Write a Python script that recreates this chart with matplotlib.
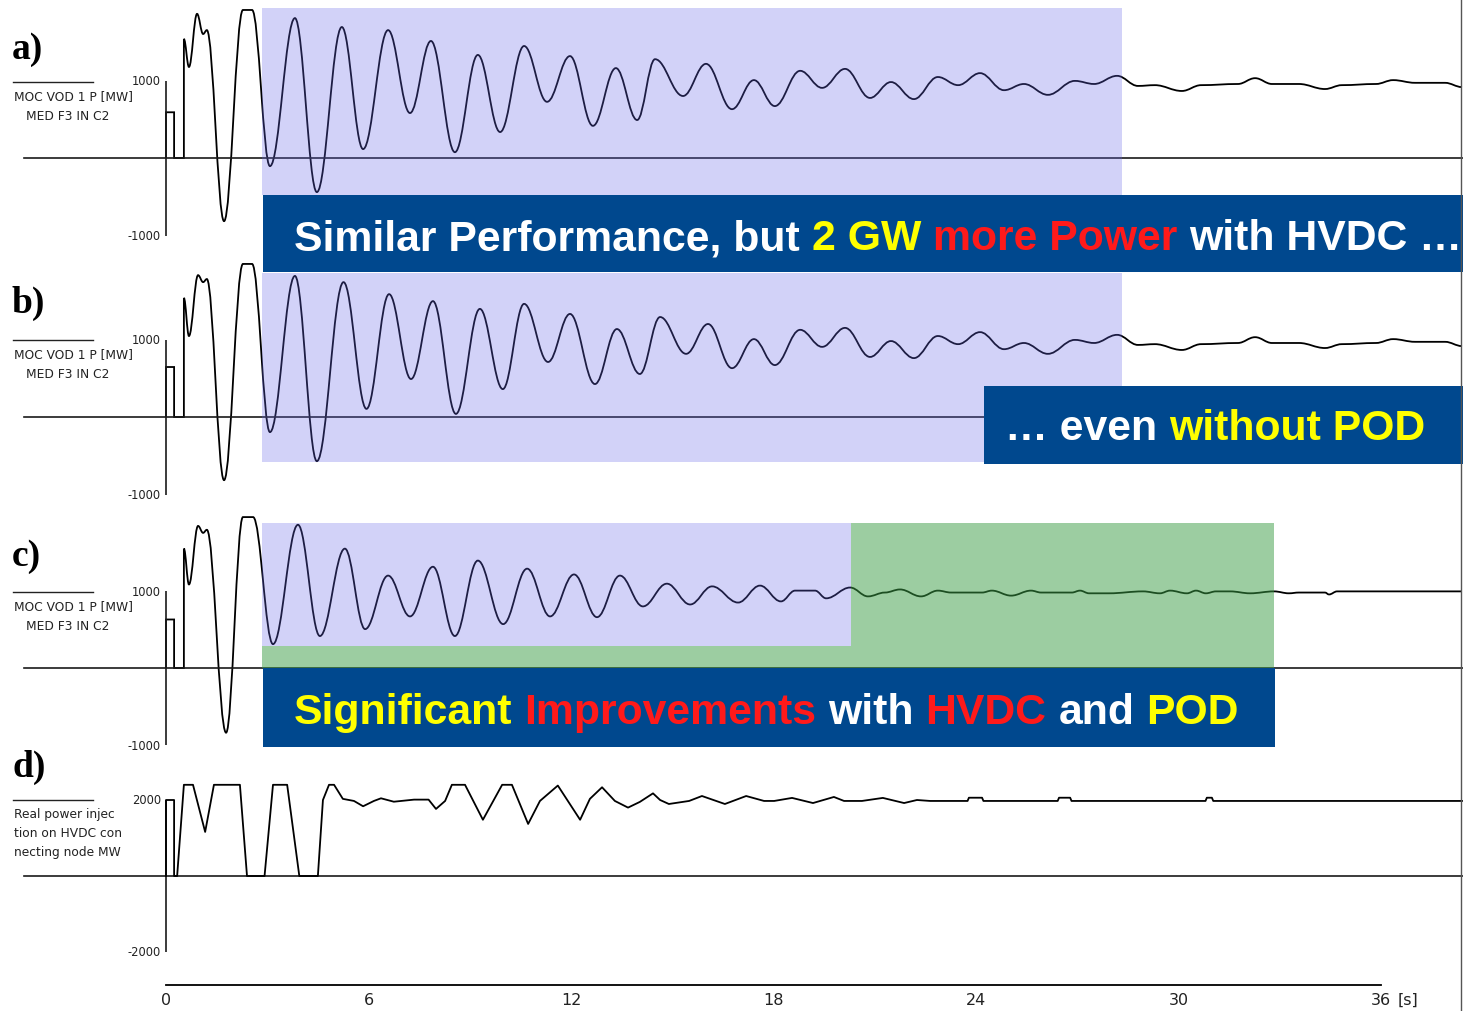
import matplotlib
matplotlib.use("Agg")
import matplotlib.pyplot as plt
from matplotlib.path import Path
from matplotlib.patches import PathPatch, Rectangle

# ---- data (time in s, power in MW) ----
t_a = [0, 0, 0.24, 0.24, 0.53, 0.53, 0.68, 0.92, 1.10, 1.21, 1.72, 2.28, 2.55,
       3.08, 3.82, 4.47, 5.21, 5.84, 6.58, 7.23, 7.85, 8.56, 9.24, 9.90, 10.61,
       11.29, 11.97, 12.65, 13.33, 13.96, 14.49, 15.32, 16.00, 16.77, 17.42,
       18.04, 18.79, 19.44, 20.12, 20.86, 21.48, 22.16, 22.87, 23.47, 24.12,
       24.83, 25.42, 26.13, 26.93, 27.50, 28.18, 28.80, 29.30, 30.10, 30.67,
       31.76, 32.27, 32.77, 33.57, 34.34, 34.84, 35.85, 36.36, 37.01, 37.90, 38.40]
p_a = [0, 590, 590, 0, 0, 1535, 1175, 1860, 1600, 1650, -815, 1910, 1910,
       -105, 1805, -440, 1690, 115, 1650, 580, 1510, 75, 1330, 335, 1445,
       725, 1315, 415, 1160, 490, 1275, 800, 1215, 630, 1005,
       670, 1125, 905, 1150, 775, 980, 760, 1045, 940, 1095,
       875, 955, 815, 995, 955, 1060, 930, 940, 865, 940,
       955, 1030, 955, 955, 890, 940, 955, 1005, 970, 970, 915]

t_b = [0, 0, 0.24, 0.24, 0.53, 0.53, 0.68, 0.95, 1.10, 1.21, 1.72, 2.28, 2.55,
       3.08, 3.82, 4.47, 5.26, 5.94, 6.61, 7.26, 7.91, 8.59, 9.30, 9.98, 10.61,
       11.32, 11.97, 12.71, 13.36, 14.04, 14.64, 15.41, 16.06, 16.77, 17.42,
       18.04, 18.79, 19.44, 20.12, 20.86, 21.48, 22.16, 22.87, 23.47, 24.12,
       24.83, 25.42, 26.13, 26.93, 27.50, 28.18, 28.80, 29.30, 30.10, 30.67,
       31.76, 32.27, 32.77, 33.57, 34.34, 34.84, 35.85, 36.36, 37.01, 37.90, 38.40]
p_b = [0, 645, 645, 0, 0, 1535, 1045, 1830, 1740, 1780, -815, 1975, 1975,
       -195, 1820, -570, 1740, 105, 1585, 490, 1495, 40, 1395, 360, 1460,
       710, 1330, 425, 1135, 555, 1290, 815, 1200, 630, 1005,
       670, 1125, 905, 1150, 775, 980, 760, 1045, 940, 1095,
       875, 955, 815, 995, 955, 1060, 930, 940, 865, 940,
       955, 1030, 955, 955, 890, 940, 955, 1005, 970, 970, 915]

t_c = [0, 0, 0.24, 0.24, 0.53, 0.53, 0.68, 0.95, 1.10, 1.21, 1.78, 2.28, 2.58,
       3.17, 3.91, 4.56, 5.30, 5.90, 6.58, 7.23, 7.91, 8.56, 9.24, 9.99, 10.70,
       11.38, 12.09, 12.77, 13.45, 14.13, 14.84, 15.53, 16.18, 16.95, 17.60,
       18.22, 18.64, 19.23, 19.56, 20.27, 20.80, 21.30, 21.75, 22.37, 22.87,
       23.26, 24.18, 24.47, 25.04, 25.63, 25.93, 26.84, 27.08, 27.35, 27.94,
       28.95, 29.45, 29.75, 30.25, 30.52, 30.81, 31.11, 31.53, 32.12, 32.83,
       33.27, 33.57, 34.34, 34.46, 34.70, 38.40]
p_c = [0, 630, 630, 0, 0, 1550, 1085, 1845, 1755, 1795, -840, 1960, 1960,
       310, 1860, 415, 1550, 505, 1200, 670, 1315, 415, 1395, 570, 1290,
       670, 1215, 660, 1200, 800, 1095, 825, 1060, 850, 1070,
       865, 1005, 1005, 905, 1045, 930, 980, 1020, 930, 1005,
       980, 980, 1005, 940, 1005, 980, 980, 1005, 970, 970,
       995, 970, 1005, 970, 1005, 970, 995, 995, 970, 995,
       970, 980, 980, 955, 995, 995]

t_d = [0, 0, 0.24, 0.24, 0.33, 0.53, 0.80, 1.16, 1.42, 2.19,
       2.40, 2.92, 3.17, 3.59, 3.95, 4.50, 4.65, 4.83, 4.98, 5.24,
       5.57, 5.84, 6.16, 6.37, 6.75, 7.35, 7.78, 8.00, 8.27, 8.47,
       8.86, 9.39, 9.96, 10.25, 10.73, 11.08, 11.61, 12.27, 12.56, 12.92,
       13.30, 13.69, 14.04, 14.43, 14.64, 14.90, 15.50, 15.88, 16.56, 17.19,
       17.72, 18.02, 18.55, 19.17, 19.79, 20.09, 20.62, 21.24, 21.87, 22.25,
       22.64, 23.75, 23.79, 24.18, 24.22, 26.42, 26.46, 26.79, 26.83, 30.80,
       30.84, 30.99, 31.03, 38.40]
p_d = [0, 2000, 2000, 0, 0, 2400, 2400, 1160, 2400, 2400,
       0, 0, 2400, 2400, 0, 0, 2000, 2400, 2400, 2030,
       1975, 1835, 1975, 2045, 1955, 2010, 2010, 1765, 1975, 2400,
       2400, 1480, 2400, 2400, 1370, 1975, 2380, 1480, 2030, 2335,
       1975, 1800, 1950, 2175, 2000, 1895, 1975, 2105, 1895, 2105,
       1975, 1975, 2055, 1920, 2080, 1975, 1975, 2055, 1920, 2000,
       1975, 1975, 2060, 2060, 1975, 1975, 2060, 2060, 1975, 1975,
       2060, 2060, 1975, 1975]

time_ticks = [0, 6, 12, 18, 24, 30, 36]
panel_letters = ["a)", "b)", "c)", "d)"]
signal_names = [["MOC VOD 1 P [MW]", "MED F3 IN C2"],
                ["MOC VOD 1 P [MW]", "MED F3 IN C2"],
                ["MOC VOD 1 P [MW]", "MED F3 IN C2"],
                ["Real power injec", "tion on HVDC con", "necting node MW"]]
y_ranges = [1000, 1000, 1000, 2000]

# ---- layout (pixels) ----
W, H = 1463, 1012
T0 = 166           # pixel column of t = 0
PX_S = 33.75       # pixels per second
# (top row, bottom row, zero row, px per MW)
geom = [(0, 255, 159, 0.0775), (255, 505, 418, 0.0775),
        (505, 760, 669, 0.0770), (760, 1012, 877, 0.0380)]

BLUE = "#00488e"
YEL = "#ffff00"
RED = "#ff1a1a"
LAV = "#6767ea"
GRN = "#3b9d45"

fig = plt.figure(figsize=(W / 100, H / 100), dpi=100)


def smooth(t, v, k=0.38):
    verts = [(t[0], v[0])]
    codes = [Path.MOVETO]
    for i in range(1, len(t)):
        dt = t[i] - t[i - 1]
        verts += [(t[i - 1] + k * dt, v[i - 1]), (t[i] - k * dt, v[i]), (t[i], v[i])]
        codes += [Path.CURVE4] * 3
    return Path(verts, codes)


series = [(t_a, p_a), (t_b, p_b), (t_c, p_c), (t_d, p_d)]
for i, (top, bot, zero, k) in enumerate(geom):
    ax = fig.add_axes([0, 1 - bot / H, 1, (bot - top) / H])
    ax.set_xlim(-T0 / PX_S, (W - T0) / PX_S)
    ax.set_ylim((zero - bot) / k, (zero - top) / k)
    ax.axis("off")
    ax.axhline(0, xmin=24 / W, xmax=1, color="#1a1a1a", lw=1.2)
    r = y_ranges[i]
    ax.vlines(0, -r, r, color="#1a1a1a", lw=1.2)
    ax.text(-0.15, r, str(r), ha="right", va="center", fontsize=8.3, color="#222222")
    ax.text(-0.15, -r, "-" + str(r), ha="right", va="center", fontsize=8.3, color="#222222")
    t, v = series[i]
    if i < 3:
        ax.add_patch(PathPatch(smooth(t, v), fill=False, ec="black", lw=1.3))
    else:
        ax.plot(t, v, color="black", lw=1.3)

# time axis
axt = fig.add_axes([T0 / W, 1 - 986 / H, 36 * PX_S / W, 0.0001])
axt.set_xlim(0, 36)
axt.set_yticks([])
for s in ["top", "left", "right"]:
    axt.spines[s].set_visible(False)
axt.spines["bottom"].set_linewidth(1.3)
axt.set_xticks(time_ticks)
axt.tick_params(axis="x", length=0, pad=5, labelsize=11.5, labelcolor="#222222")
axt.patch.set_visible(False)

# overlay in pixel coordinates
ov = fig.add_axes([0, 0, 1, 1])
ov.set_xlim(0, W)
ov.set_ylim(H, 0)
ov.axis("off")

ov.axvline(1461, color="#555555", lw=1)

# highlight areas
ov.add_patch(Rectangle((262, 9), 860, 187, fc=LAV, alpha=0.29, lw=0))
ov.add_patch(Rectangle((262, 274), 860, 189, fc=LAV, alpha=0.29, lw=0))
ov.add_patch(Rectangle((262, 524), 589, 123, fc=LAV, alpha=0.29, lw=0))
ov.add_patch(Rectangle((851, 524), 423, 145, fc=GRN, alpha=0.5, lw=0))
ov.add_patch(Rectangle((262, 647), 589, 22, fc=GRN, alpha=0.5, lw=0))

# message boxes
ov.add_patch(Rectangle((263, 196), 1200, 77, fc=BLUE, lw=0))
ov.add_patch(Rectangle((984, 387), 479, 78, fc=BLUE, lw=0))
ov.add_patch(Rectangle((263, 669), 1012, 79, fc=BLUE, lw=0))

renderer = fig.canvas.get_renderer()
big = dict(fontsize=30.8, fontfamily="Liberation Sans", fontweight="bold", va="baseline", ha="left")


def text_width(s):
    t = ov.text(0, 0, s, **big)
    w = t.get_window_extent(renderer=renderer).width
    t.remove()
    return w


space = text_width("x x") - text_width("xx")


def colored_line(x, y, parts):
    for s, c in parts:
        t = ov.text(x, y, s, color=c, **big)
        x += t.get_window_extent(renderer=renderer).width + space


colored_line(294, 250, [("Similar Performance, but", "white"), ("2 GW", YEL),
                        ("more Power", RED), ("with HVDC \u2026", "white")])
colored_line(1005, 440, [("\u2026 even", "white"), ("without POD", YEL)])
colored_line(294, 724, [("Significant", YEL), ("Improvements", RED), ("with", "white"),
                        ("HVDC", RED), ("and", "white"), ("POD", YEL)])

# panel letters and signal names
letter_rows = [49, 303, 556, 767]
name_rows = [83, 341, 593, 801]
for i in range(4):
    ov.text(12, letter_rows[i], panel_letters[i], fontsize=27, fontfamily="Liberation Serif",
            fontweight="bold", va="center", ha="left")
    y0 = name_rows[i]
    ov.plot([13, 93], [y0, y0], color="#222222", lw=1)
    for j, s in enumerate(signal_names[i]):
        x0 = 14 if (j == 0 or i == 3) else 26
        ov.text(x0, y0 + 14 + j * 19, s, fontsize=8.8, va="center", ha="left", color="#222222")

ov.text(1408, 1000, "[s]", fontsize=11.5, va="center", ha="center", color="#222222")

fig.savefig("out.png", dpi=100)
